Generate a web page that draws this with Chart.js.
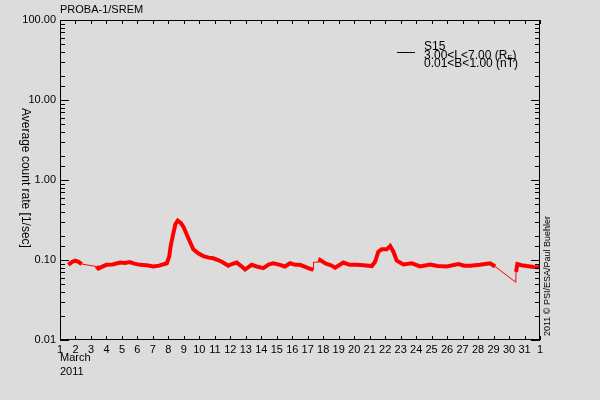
<!DOCTYPE html>
<html>
<head>
<meta charset="utf-8">
<script src="https://cdn.jsdelivr.net/npm/chart.js@4.4.0/dist/chart.umd.min.js"></script>
<style>
html, body { margin:0; padding:0; background:#dcdcdc; }
#wrap { width:600px; height:400px; }
</style>
</head>
<body>
<div id="wrap"><canvas id="chart" width="600" height="400"></canvas></div>
<script>
// S15 average count rate, March 2011 (x = day of month, 32 = April 1)
const days = [1.54, 1.75, 1.97, 2.2, 2.4, 3.35, 3.48, 3.7, 4.0, 4.4, 4.88, 5.2, 5.5, 5.8, 6.17, 6.6, 7.03, 7.4, 7.9,
  8.05, 8.15, 8.32, 8.45, 8.6, 8.8, 8.97, 9.29, 9.61, 9.9, 10.26, 10.6, 10.9, 11.2, 11.45, 11.87, 12.1, 12.41, 12.7,
  12.95, 13.38, 13.7, 14.13, 14.5, 14.78, 15.2, 15.53, 15.86, 16.2, 16.5, 17.04, 17.36, 17.37, 17.75, 17.8, 18.12,
  18.5, 18.77, 19.3, 19.7, 20.17, 20.6, 21.14, 21.35, 21.56, 21.78, 22.1, 22.32, 22.53, 22.75, 23.18, 23.72, 24.26,
  24.9, 25.4, 25.98, 26.73, 27.1, 27.49, 28.13, 28.78, 29.1, 30.44, 30.45, 30.54, 30.8, 31.15, 31.6, 32];
const rates = [0.087, 0.094, 0.098, 0.095, 0.089, 0.083, 0.078, 0.082, 0.087, 0.088, 0.093, 0.092, 0.094, 0.090, 0.087,
  0.086, 0.083, 0.085, 0.091, 0.11, 0.15, 0.215, 0.28, 0.31, 0.29, 0.26, 0.187, 0.136, 0.122, 0.112, 0.107, 0.105,
  0.10, 0.095, 0.085, 0.089, 0.093, 0.084, 0.076, 0.087, 0.083, 0.079, 0.088, 0.091, 0.087, 0.083, 0.091, 0.087,
  0.087, 0.079, 0.075, 0.094, 0.094, 0.10, 0.091, 0.086, 0.080, 0.093, 0.087, 0.087, 0.086, 0.084, 0.095, 0.127,
  0.136, 0.136, 0.150, 0.127, 0.098, 0.088, 0.091, 0.083, 0.088, 0.084, 0.083, 0.089, 0.085, 0.085, 0.087, 0.091,
  0.083, 0.0526, 0.071, 0.089, 0.086, 0.084, 0.082, 0.081];
// data gaps, joined by a thin line
const gapStarts = [2.4, 17.36, 17.37, 29.1, 30.44];

const dayTicks = [];
const dayLabels = [];
for (let d = 1; d <= 32; d++) {
  dayTicks.push(d);
  dayLabels.push(d == 32 ? '1' : String(d));
}
const decades = [0.01, 0.1, 1, 10, 100];
const decadeLabels = ['0.01', '0.10', '1.00', '10.00', '100.00'];

const FONT = 'Liberation Sans';

function isDecade(v) {
  let l = Math.log10(v);
  return Math.abs(l - Math.round(l)) < 1e-6;
}

// IDL style frame: box, inward ticks, title, legend, side texts
const framePlugin = {
  id: 'frame',
  afterDatasetsDraw(chart) {
    const ctx = chart.ctx;
    const a = chart.chartArea;
    const xs = chart.scales.x, ys = chart.scales.y;
    ctx.save();
    ctx.strokeStyle = '#000';
    ctx.lineWidth = 1;
    ctx.strokeRect(a.left + 0.5, a.top + 0.5, a.right - a.left - 1, a.bottom - a.top - 1);
    ctx.beginPath();
    xs.ticks.forEach(t => {
      let px = Math.round(xs.getPixelForValue(t.value)) + 0.5;
      ctx.moveTo(px, a.bottom); ctx.lineTo(px, a.bottom - 4);
      ctx.moveTo(px, a.top); ctx.lineTo(px, a.top + 4);
    });
    ys.ticks.forEach(t => {
      let py = Math.round(ys.getPixelForValue(t.value)) + 0.5;
      let len = isDecade(t.value) ? 9 : 5;
      ctx.moveTo(a.left, py); ctx.lineTo(a.left + len, py);
      ctx.moveTo(a.right, py); ctx.lineTo(a.right - len, py);
    });
    ctx.stroke();

    ctx.fillStyle = '#000';
    ctx.font = '11px "' + FONT + '"';
    ctx.textBaseline = 'middle';
    ctx.textAlign = 'left';
    ctx.fillText('PROBA-1/SREM', a.left, 10);
    ctx.fillText('March', a.left, 358);
    ctx.fillText('2011', a.left, 372);

    // legend
    ctx.beginPath();
    ctx.moveTo(397, 52.5); ctx.lineTo(415, 52.5);
    ctx.stroke();
    ctx.font = '12px "' + FONT + '"';
    ctx.fillText('S15', 424, 47);
    let t = '3.00<L<7.00 (R';
    ctx.fillText(t, 424, 55.5);
    let w = ctx.measureText(t).width;
    ctx.font = '7px "' + FONT + '"';
    ctx.fillText('E', 424 + w, 58);
    ctx.font = '12px "' + FONT + '"';
    ctx.fillText(')', 424 + w + 5, 55.5);
    ctx.fillText('0.01<B<1.00 (nT)', 424, 63.5);

    // y axis title, reading downward
    ctx.save();
    ctx.translate(25, (a.top + a.bottom) / 2 - 2);
    ctx.rotate(Math.PI / 2);
    ctx.textAlign = 'center';
    ctx.font = '12px "' + FONT + '"';
    ctx.fillText('Average count rate [1/sec]', 0, 0);
    ctx.restore();

    // credit, reading upward
    ctx.save();
    ctx.translate(548, a.bottom - 4);
    ctx.rotate(-Math.PI / 2);
    ctx.textAlign = 'left';
    ctx.font = '9px "' + FONT + '"';
    ctx.fillText('2011 \u00a9 PSI/ESA/Paul Buehler', 0, 0);
    ctx.restore();
    ctx.restore();
  }
};

new Chart(document.getElementById('chart'), {
  type: 'line',
  data: {
    datasets: [{
      label: 'S15',
      data: days.map((d, i) => ({ x: d, y: rates[i] })),
      borderColor: '#ff0000',
      borderWidth: 4,
      pointRadius: 0,
      tension: 0,
      segment: {
        borderWidth: c => gapStarts.includes(c.p0.parsed.x) ? 1 : 4
      }
    }]
  },
  options: {
    responsive: false,
    animation: false,
    devicePixelRatio: 1,
    layout: { padding: { left: 0, right: 60, top: 20, bottom: 0 } },
    plugins: {
      legend: { display: false },
      tooltip: { enabled: false }
    },
    scales: {
      x: {
        type: 'linear',
        min: 1,
        max: 32,
        afterBuildTicks: s => { s.ticks = dayTicks.map(v => ({ value: v })); },
        afterFit: s => { s.height = 60; },
        grid: { display: false, drawTicks: false },
        border: { display: false },
        ticks: {
          autoSkip: false,
          maxRotation: 0,
          padding: 3,
          color: '#000',
          font: { family: FONT, size: 11 },
          callback: (v, i) => dayLabels[i]
        }
      },
      y: {
        type: 'logarithmic',
        min: 0.01,
        max: 100,
        afterFit: s => { s.width = 60; },
        grid: { display: false, drawTicks: false },
        border: { display: false },
        ticks: {
          autoSkip: false,
          padding: 4,
          color: '#000',
          font: { family: FONT, size: 11 },
          callback: v => {
            let i = decades.findIndex(d => Math.abs(d - v) < d * 1e-6);
            return i >= 0 ? decadeLabels[i] : '';
          }
        }
      }
    }
  },
  plugins: [framePlugin]
});
</script>
</body>
</html>
